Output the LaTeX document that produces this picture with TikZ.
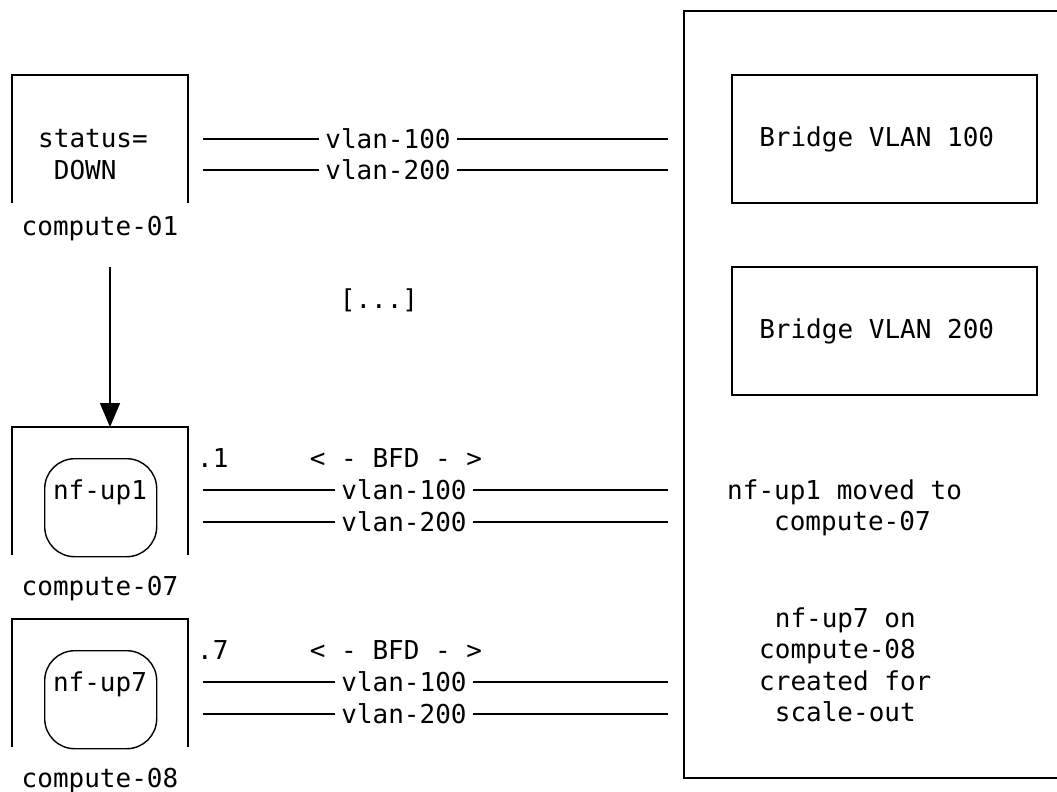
\documentclass[tikz,border=0pt]{standalone}
\usepackage{fontspec}
\newfontfamily\dvm{DejaVu Sans Mono}
\usetikzlibrary{arrows.meta}
\begin{document}
\begin{tikzpicture}[x=1pt,y=-1pt,
  txt/.style={font=\dvm\fontsize{26}{31.5}\selectfont, inner sep=0pt},
  frame/.style={line width=1.6pt},
  link/.style={line width=1.3pt},
  vlbl/.style={txt, inner xsep=6pt},
  vm/.style={draw, line width=1.4pt, rounded corners=30pt, minimum width=112pt, minimum height=98pt, inner sep=0pt},
  bridge/.style={txt, draw, line width=1.6pt, minimum width=305pt, minimum height=128pt},
  flow/.style={line width=1.6pt, -{Triangle[length=24pt,width=20pt]}},
]
\useasboundingbox (0,0) rectangle (1057,792);

% right-hand container
\draw[frame] (1065,11) -- (684,11) -- (684,778) -- (1065,778);
\node[bridge] (b100) at (884.5,139) {Bridge VLAN 100\phantom{x}};
\node[bridge] (b200) at (884.5,331) {Bridge VLAN 200\phantom{x}};
% multi-line nodes: base anchor sits on the last line
\node[txt, anchor=base west, align=left] (n1) at (727,530.5) {nf-up1 moved to\\\phantom{xxx}compute-07};
\node[txt, anchor=base west, align=left] (n7) at (759,721.5) {\phantom{x}nf-up7 on\\compute-08\\created for\\\phantom{x}scale-out};

% compute-01
\draw[frame] (12,203) -- (12,75) -- (188,75) -- (188,203);
\node[txt, anchor=base west, align=left] (st) at (38,179) {status=\\\phantom{x}DOWN};
\node[txt, anchor=base] (c01) at (100,235) {compute-01};
\coordinate (l0a) at (203,139); \coordinate (r0a) at (668,139);
\coordinate (l0b) at (203,170); \coordinate (r0b) at (668,170);
\node[vlbl] (v0a) at (388,139) {vlan-100};
\node[vlbl] (v0b) at (388,170) {vlan-200};
\draw[link] (l0a) -- (v0a.west) (v0a.east) -- (r0a);
\draw[link] (l0b) -- (v0b.west) (v0b.east) -- (r0b);

\node[txt] (dots) at (379,300) {[...]};

% migration arrow
\coordinate (aS) at (110,267);
\coordinate (aE) at (110,427);
\draw[flow] (aS) -- (aE);

% compute-07
\draw[frame] (12,555) -- (12,427) -- (188,427) -- (188,555);
\node[vm, anchor=north west] (up1) at (44,458) {};
\node[txt, anchor=base] (up1t) at (100,499) {nf-up1};
\node[txt, anchor=base] (c07) at (100,595) {compute-07};
\node[txt, anchor=base west] (d1) at (197,467) {.1};
\node[txt, anchor=base] (bfd1) at (396,467) {< - BFD - >};
\coordinate (l1a) at (203,490); \coordinate (r1a) at (668,490);
\coordinate (l1b) at (203,522); \coordinate (r1b) at (668,522);
\node[vlbl] (v1a) at (404,490) {vlan-100};
\node[vlbl] (v1b) at (404,522) {vlan-200};
\draw[link] (l1a) -- (v1a.west) (v1a.east) -- (r1a);
\draw[link] (l1b) -- (v1b.west) (v1b.east) -- (r1b);

% compute-08
\draw[frame] (12,747) -- (12,619) -- (188,619) -- (188,747);
\node[vm, anchor=north west] (up7) at (44,650) {};
\node[txt, anchor=base] (up7t) at (100,691) {nf-up7};
\node[txt, anchor=base] (c08) at (100,787) {compute-08};
\node[txt, anchor=base west] (d7) at (197,659) {.7};
\node[txt, anchor=base] (bfd7) at (396,659) {< - BFD - >};
\coordinate (l7a) at (203,682); \coordinate (r7a) at (668,682);
\coordinate (l7b) at (203,714); \coordinate (r7b) at (668,714);
\node[vlbl] (v7a) at (404,682) {vlan-100};
\node[vlbl] (v7b) at (404,714) {vlan-200};
\draw[link] (l7a) -- (v7a.west) (v7a.east) -- (r7a);
\draw[link] (l7b) -- (v7b.west) (v7b.east) -- (r7b);
\end{tikzpicture}
\end{document}
